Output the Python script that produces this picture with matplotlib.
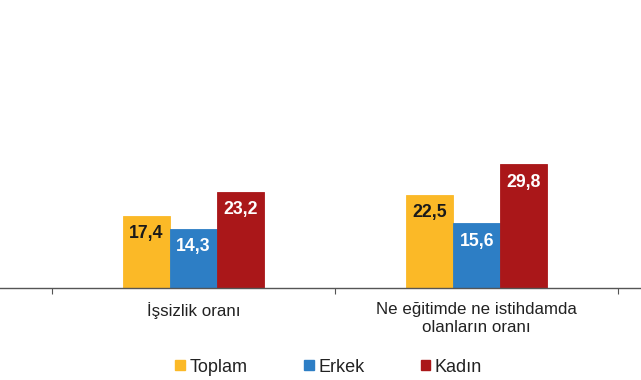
import matplotlib
matplotlib.use("Agg")
import matplotlib.pyplot as plt
from matplotlib.patches import Patch

categories = ["İşsizlik oranı", "Ne eğitimde ne istihdamda\nolanların oranı"]
series_names = ["Toplam", "Erkek", "Kadın"]
toplam = [17.4, 22.5]
erkek = [14.3, 15.6]
kadin = [23.2, 29.8]
labels_fmt = lambda v: f"{v:.1f}".replace(".", ",")

colors = ["#FBB927", "#2D7EC5", "#AA1719"]
label_colors = ["#1a1a1a", "white", "white"]

plt.rcParams['font.family'] = ['Liberation Sans', 'DejaVu Sans']

fig = plt.figure(figsize=(6.41, 3.80), dpi=100)
ax = fig.add_axes([0, 0.2421, 1, 0.7579])

centers = [1, 2]
w = 0.1658
offsets = [-w, 0, w]
for vals, off, col, lc in zip([toplam, erkek, kadin], offsets, colors, label_colors):
    xs = [c + off for c in centers]
    bars = ax.bar(xs, vals, width=w, color=col, edgecolor=col, linewidth=0.6)
    for b, v in zip(bars, vals):
        ax.annotate(labels_fmt(v), (b.get_x() + b.get_width() / 2, v),
                    xytext=(0, -12.8), textcoords="offset points",
                    ha="center", va="center", fontsize=12.7, fontweight="bold",
                    color=lc)

ax.set_xlim(0.3183, 2.5794)
ax.set_ylim(0, 69.48)

for s in ["left", "right", "top"]:
    ax.spines[s].set_visible(False)
ax.spines["bottom"].set_color("#555555")
ax.spines["bottom"].set_linewidth(1.0)
ax.set_yticks([])

ax.set_xticks([0.5, 1.5, 2.5])
ax.set_xticklabels([])
ax.tick_params(axis="x", which="major", length=4, width=0.8, color="#555555", direction="out")
ax.set_xticks(centers, minor=True)
ax.set_xticklabels(categories, minor=True, fontsize=12.2, color="#222222", linespacing=1.3)
ax.tick_params(axis="x", which="minor", length=0, pad=10)

handles = [Patch(facecolor=c, edgecolor=c) for c in colors]
fig.legend(handles, series_names, loc="center", bbox_to_anchor=(0.513, 0.034),
           ncol=3, frameon=False, fontsize=13, handlelength=0.55, handleheight=0.5,
           handletextpad=0.25, columnspacing=3.1, labelcolor="#222222")

fig.savefig("out.png", dpi=100)
